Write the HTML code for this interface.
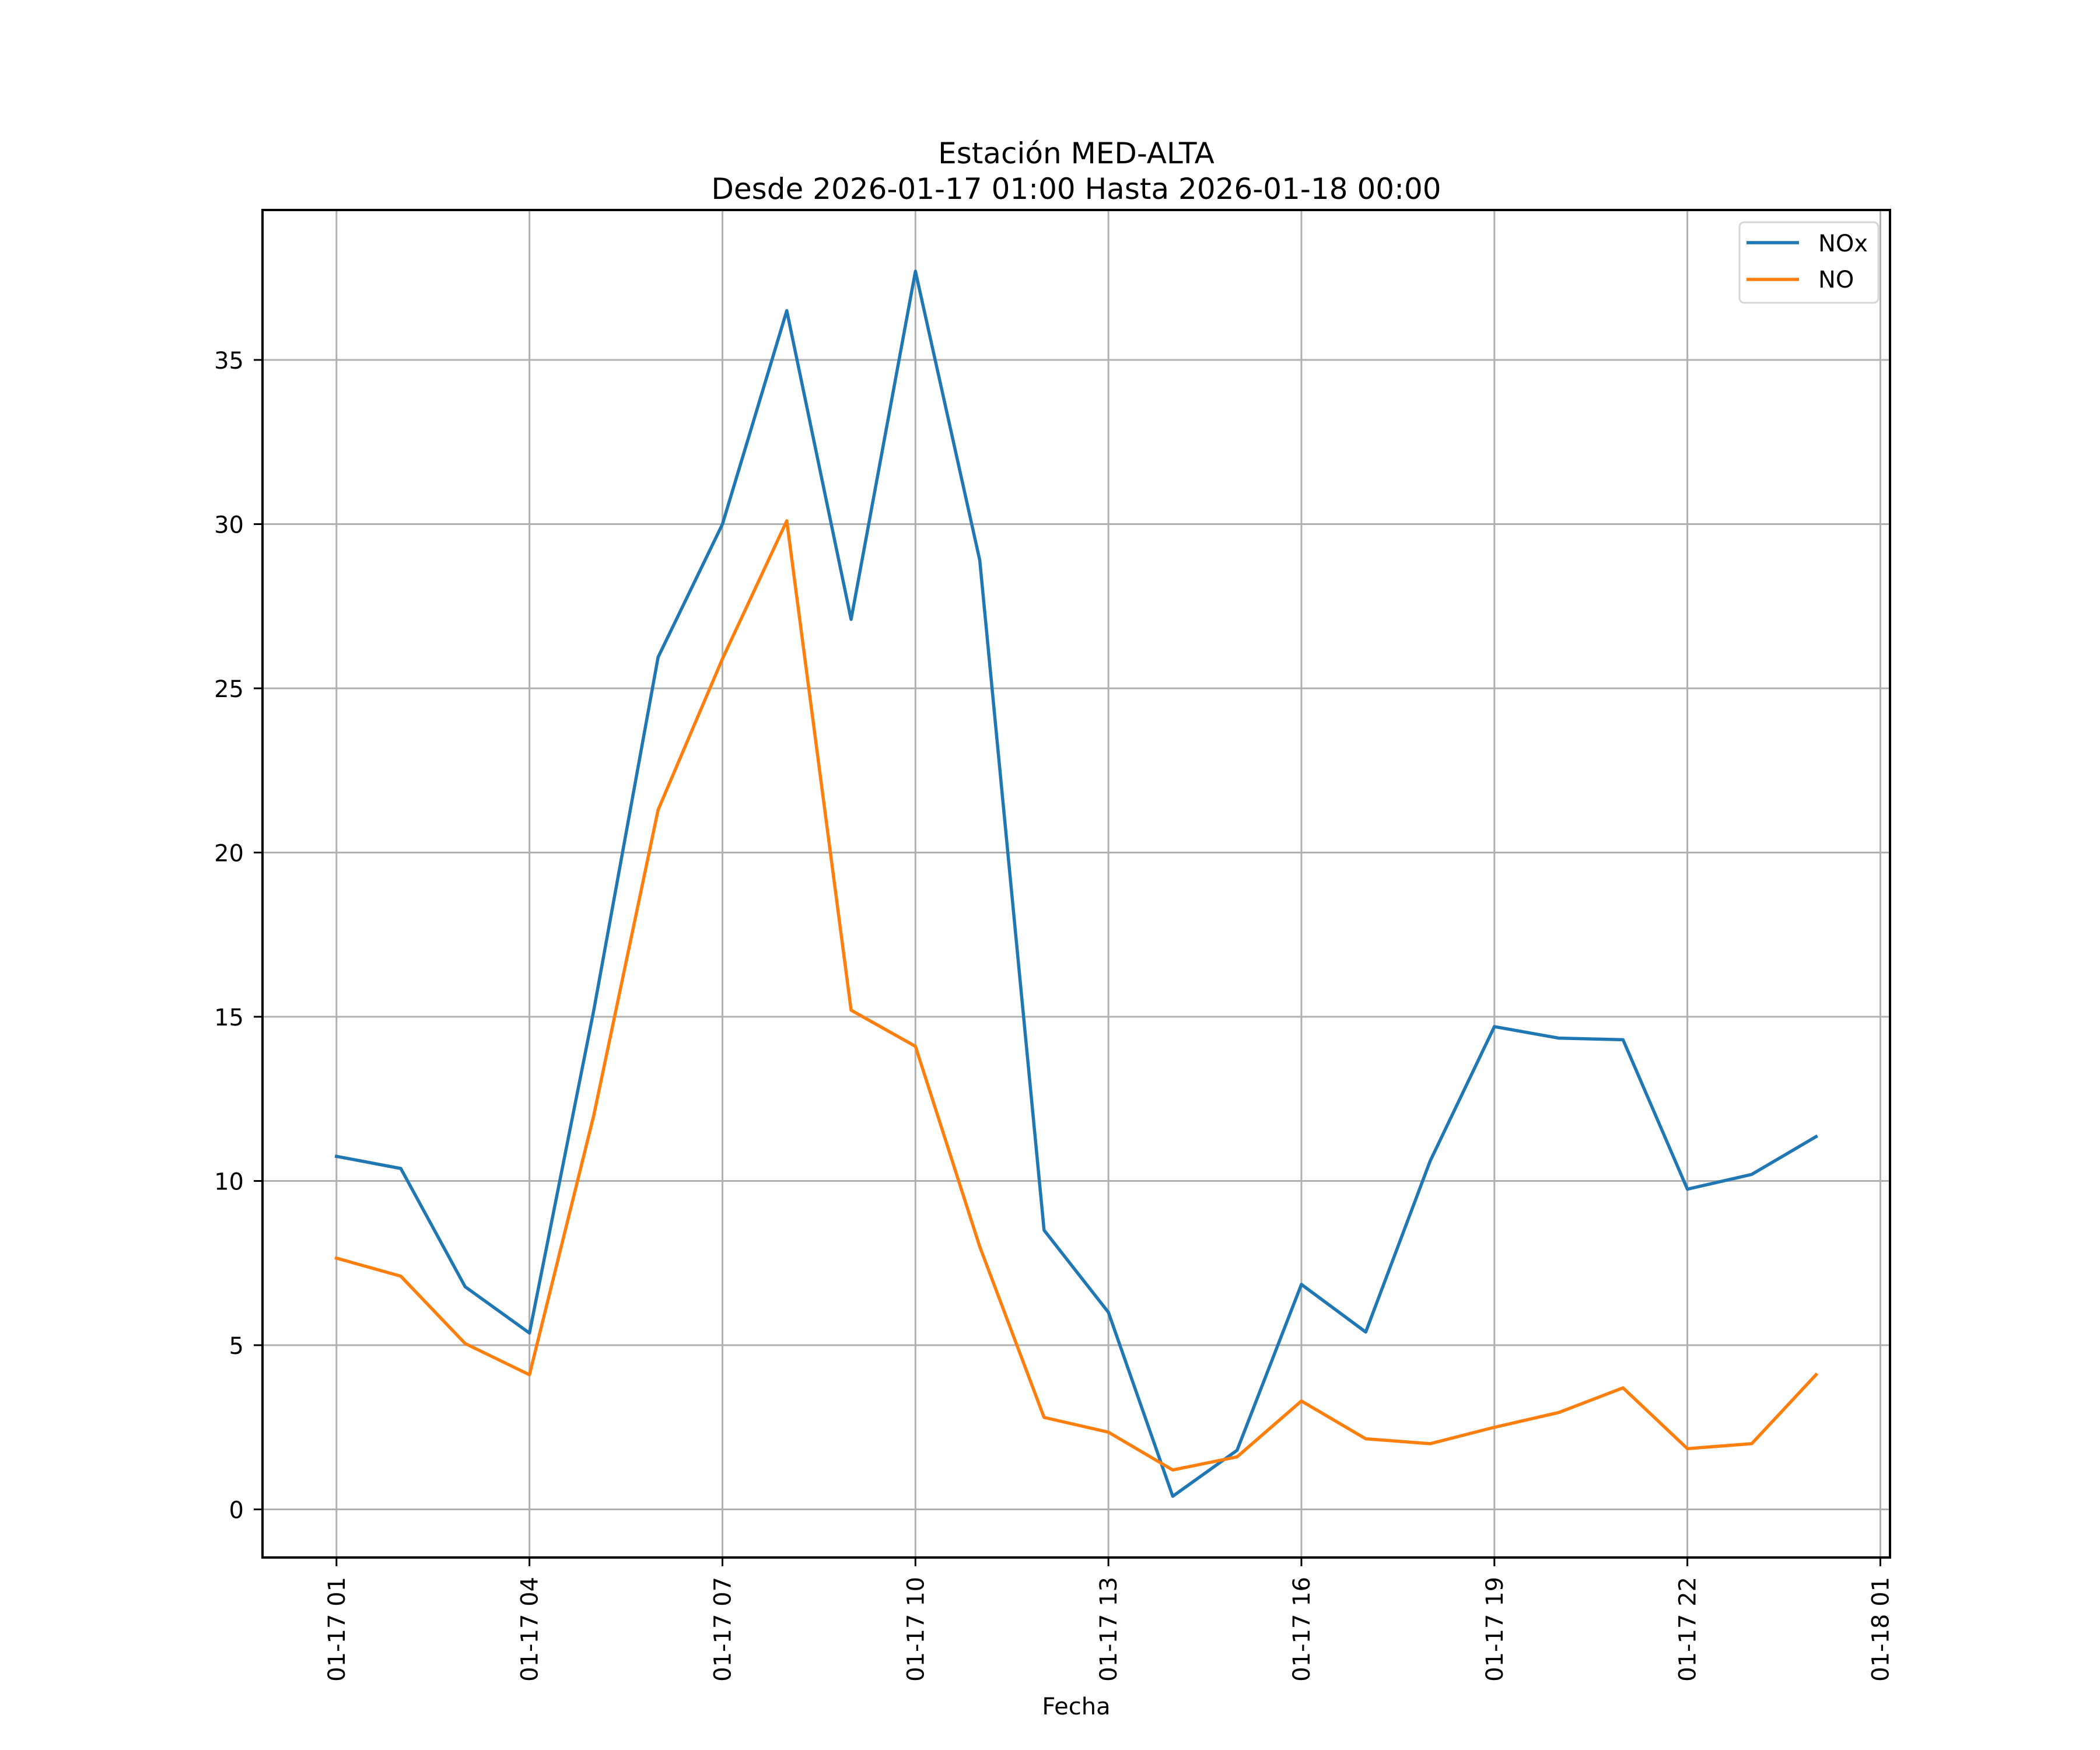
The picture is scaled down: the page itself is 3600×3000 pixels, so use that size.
<!DOCTYPE html>
<html><head><meta charset="utf-8"><style>
html,body{margin:0;padding:0;background:#fff;}
svg{display:block;}
text{font-family:"DejaVu Sans","Liberation Sans",sans-serif;fill:#000;}
</style></head><body>
<svg id="chart" width="3600" height="3000" viewBox="0 0 3600 3000" xmlns="http://www.w3.org/2000/svg">
<rect width="3600" height="3000" fill="#fff"/>
<text x="1845" y="280" font-size="50" text-anchor="middle">Estación MED-ALTA</text>
<text x="1845" y="341" font-size="50" text-anchor="middle">Desde 2026-01-17 01:00 Hasta 2026-01-18 00:00</text>
<g id="grid"></g>
<g id="series"></g>
<rect x="450" y="360" width="2790" height="2310" fill="none" stroke="#000" stroke-width="4"/>
<g id="ticks"></g>
<text x="1845" y="2939" font-size="40" text-anchor="middle">Fecha</text>
<g>
<rect x="2982" y="381" width="238" height="138" rx="8" fill="#fff" fill-opacity="0.8" stroke="#d6d6d6" stroke-width="3"/>
<line x1="2994" y1="416" x2="3084" y2="416" stroke="#1f77b4" stroke-width="5.5"/>
<text x="3117" y="431" font-size="40">NOx</text>
<line x1="2994" y1="479" x2="3084" y2="479" stroke="#ff7f0e" stroke-width="5.5"/>
<text x="3117" y="493" font-size="40">NO</text>
</g>
</svg>
<script>
const hours = [1,2,3,4,5,6,7,8,9,10,11,12,13,14,15,16,17,18,19,20,21,22,23,24];
const noxValues = [10.75,10.38,6.78,5.37,15.2,25.95,30.0,36.5,27.1,37.7,28.9,8.5,6.0,0.4,1.8,6.85,5.4,10.6,14.7,14.35,14.3,9.75,10.2,11.35];
const noValues = [7.65,7.1,5.05,4.1,12.0,21.3,25.9,30.1,15.2,14.1,8.0,2.8,2.35,1.2,1.6,3.3,2.15,2.0,2.5,2.95,3.7,1.85,2.0,4.1];
const yTicks = [0,5,10,15,20,25,30,35];
const xTickHours = [1,4,7,10,13,16,19,22,25];
const xTickLabels = ["01-17 01","01-17 04","01-17 07","01-17 10","01-17 13","01-17 16","01-17 19","01-17 22","01-18 01"];

const NS="http://www.w3.org/2000/svg";
const L=450,R=3240,T=360,B=2670;
const xMin=-0.15,xMax=25.15;
const allV=noxValues.concat(noValues);
const vmin=Math.min(...allV),vmax=Math.max(...allV),pad=(vmax-vmin)*0.05;
const yMin=vmin-pad,yMax=vmax+pad;
const xs=h=>L+(h-xMin)/(xMax-xMin)*(R-L);
const ys=v=>B-(v-yMin)/(yMax-yMin)*(B-T);
function mk(tag,attrs,parent){const e=document.createElementNS(NS,tag);for(const k in attrs)e.setAttribute(k,attrs[k]);document.getElementById(parent).appendChild(e);return e;}
yTicks.forEach(v=>{
  const g=mk('line',{x1:L,x2:R,y1:ys(v),y2:ys(v),stroke:'#b0b0b0','stroke-width':3},'grid');
  
  
  mk('line',{x1:L-15,x2:L,y1:ys(v),y2:ys(v),stroke:'#000','stroke-width':3},'ticks');
  const t=mk('text',{x:L-32,y:ys(v)+15,'font-size':40,'text-anchor':'end'},'ticks');
  t.textContent=v;
  
  
});
xTickHours.forEach((h,i)=>{
  const x=xs(h);
  const g=mk('line',{x1:x,x2:x,y1:T,y2:B,stroke:'#b0b0b0','stroke-width':3},'grid');
  
  
  mk('line',{x1:x,x2:x,y1:B,y2:B+15,stroke:'#000','stroke-width':3},'ticks');
  const t=mk('text',{x:0,y:0,'font-size':40,'text-anchor':'end',transform:`translate(${x+14},${B+33}) rotate(-90)`},'ticks');
  t.textContent=xTickLabels[i];
  
  
});
function line(vals,color,name){
  const p=mk('polyline',{points:vals.map((v,i)=>xs(hours[i])+','+ys(v)).join(' '),fill:'none',stroke:color,'stroke-width':5.5,'stroke-linejoin':'round','stroke-linecap':'square'},'series');
  
  
}
line(noxValues,'#1f77b4','nox-line');
line(noValues,'#ff7f0e','no-line');
</script>
</body></html>
